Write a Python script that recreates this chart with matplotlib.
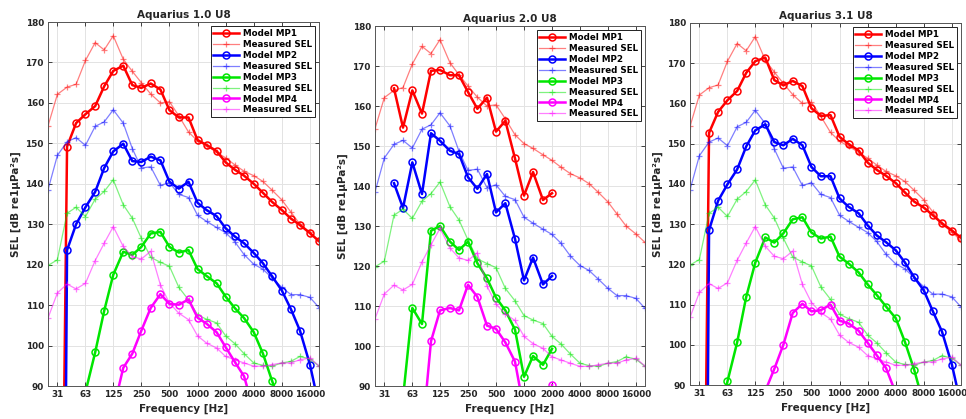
import numpy as np
import matplotlib
matplotlib.use("Agg")
import matplotlib.pyplot as plt

nan = np.nan

# third-octave band centre frequencies [Hz]
freqs = [25, 31.5, 40, 50, 63, 80, 100, 125, 160, 200, 250, 315, 400, 500, 630,
         800, 1000, 1250, 1600, 2000, 2500, 3150, 4000, 5000, 6300, 8000, 10000,
         12500, 16000, 20000]
tick_freqs = [31.5, 63, 125, 250, 500, 1000, 2000, 4000, 8000, 16000]
tick_labels = ["31", "63", "125", "250", "500", "1000", "2000", "4000", "8000", "16000"]

# measured SEL per measurement point (same in every panel)
meas_mp1 = [154.3, 162.1, 163.9, 164.6, 170.5, 174.9, 173.1, 176.6, 170.8, 167.8,
            165.0, 162.2, 160.0, 160.3, 156.8, 152.8, 150.6, 149.4, 147.8, 146.4,
            144.7, 143.1, 142.0, 140.6, 138.4, 136.0, 133.0, 130.0, 128.0, 125.9]
meas_mp2 = [138.5, 147.0, 150.4, 151.4, 149.5, 154.2, 155.3, 158.3, 155.0, 148.7,
            143.9, 144.2, 139.6, 140.3, 137.4, 136.6, 132.2, 130.7, 129.2, 127.9,
            125.7, 122.5, 120.1, 118.9, 116.7, 114.4, 112.6, 112.6, 111.9, 109.4]
meas_mp3 = [119.8, 121.2, 132.7, 134.2, 131.9, 136.2, 138.1, 141.0, 134.8, 131.5,
            126.5, 121.8, 120.6, 119.6, 114.4, 111.3, 107.6, 106.5, 105.6, 102.4,
            100.5, 98.0, 95.7, 95.1, 94.9, 95.7, 96.1, 97.3, 96.7, 94.9]
meas_mp4 = [106.8, 113.0, 115.2, 114.0, 115.4, 121.0, 125.3, 129.4, 124.5, 122.0,
            121.4, 123.3, 115.0, 110.5, 108.0, 106.4, 102.4, 100.6, 99.4, 97.3,
            96.5, 95.7, 94.9, 94.9, 95.3, 95.7, 95.7, 96.5, 96.9, 95.0]

# Aquarius 1.0 model
a10_mp1 = [nan, -60, 149.2, 155.0, 157.2, 159.2, 164.1, 167.9, 169.2, 164.4, 163.7,
           164.8, 163.3, 158.2, 156.4, 156.4, 150.8, 149.6, 148.1, 145.3, 143.5,
           142.0, 140.0, 137.8, 135.5, 133.5, 131.4, 129.8, 127.8, 125.8]
a10_mp2 = [nan, -200, 123.6, 130.0, 134.2, 138.0, 143.9, 148.0, 149.9, 145.6, 145.4,
           146.7, 145.8, 140.5, 138.8, 140.5, 135.3, 133.5, 132.0, 129.0, 127.0,
           125.3, 122.9, 120.4, 117.1, 113.6, 109.0, 103.7, 95.3, 85.0]
a10_mp3 = [nan, nan, nan, nan, 88.5, 98.3, 108.6, 117.5, 123.2, 122.4, 124.4, 127.7,
           128.1, 124.4, 123.0, 123.6, 118.9, 117.2, 115.4, 112.1, 109.3, 106.8,
           103.3, 98.1, 91.2, 84.5, nan, nan, nan, nan]
a10_mp4 = [nan, nan, nan, nan, nan, nan, nan, 84.0, 94.5, 98.0, 103.7, 109.3, 112.7,
           110.3, 110.1, 111.4, 106.9, 105.4, 103.3, 99.6, 96.0, 92.4, 84.0,
           nan, nan, nan, nan, nan, nan, nan]

# Aquarius 2.0 model (up to 2 kHz)
a20_mp1 = [nan, nan, 164.4, 154.6, 163.9, 158.1, 168.8, 169.0, 167.7, 167.7, 163.5,
           159.3, 162.1, 153.6, 156.3, 146.9, 137.6, 143.5, 136.5, 138.2] + [nan] * 10
a20_mp2 = [nan, nan, 140.7, 134.5, 145.9, 138.0, 153.2, 151.3, 148.8, 148.0, 142.2,
           139.3, 143.0, 133.4, 135.7, 126.8, 116.4, 122.1, 115.4, 117.5] + [nan] * 10
a20_mp3 = [nan, nan, nan, 87.0, 109.5, 105.5, 128.8, 130.0, 126.1, 124.0, 126.1,
           120.7, 116.9, 112.1, 108.9, 104.1, 92.3, 97.5, 95.3, 99.3] + [nan] * 10
a20_mp4 = [nan, nan, nan, nan, nan, 77.0, 101.2, 108.9, 109.5, 108.9, 115.3, 112.3,
           105.1, 104.3, 100.9, 96.1, 84.0, 80.0, 78.0, 90.2] + [nan] * 10

# Aquarius 3.1 model
a31_mp1 = [nan, -60, 152.7, 157.9, 160.8, 163.1, 167.6, 170.5, 171.4, 165.8, 164.5,
           165.6, 164.3, 158.8, 156.9, 157.1, 151.7, 149.9, 148.3, 145.3, 143.5,
           142.0, 140.2, 137.9, 135.6, 134.1, 132.2, 130.2, 128.4, 126.6]
a31_mp2 = [nan, -200, 128.5, 135.8, 139.9, 143.6, 149.3, 153.3, 154.8, 150.4, 149.6,
           151.2, 149.6, 144.2, 141.9, 141.9, 136.4, 134.3, 132.7, 129.7, 127.2,
           125.5, 123.5, 120.5, 116.8, 113.5, 108.3, 103.3, 95.0, 85.0]
a31_mp3 = [nan, nan, nan, 80.0, 90.9, 100.6, 111.9, 120.4, 126.7, 125.4, 127.7, 131.2,
           131.7, 127.9, 126.4, 126.9, 121.9, 120.2, 118.0, 115.0, 112.4, 109.5,
           106.6, 100.8, 93.8, 85.0, nan, nan, nan, nan]
a31_mp4 = [nan, nan, nan, nan, nan, nan, nan, nan, 88.5, 94.0, 100.0, 107.9, 110.2,
           108.3, 108.6, 110.0, 106.0, 105.3, 103.5, 100.5, 97.4, 94.2, 88.0,
           nan, nan, nan, nan, nan, nan, nan]

titles = ["Aquarius 1.0 U8", "Aquarius 2.0 U8", "Aquarius 3.1 U8"]
models = [[a10_mp1, a10_mp2, a10_mp3, a10_mp4],
          [a20_mp1, a20_mp2, a20_mp3, a20_mp4],
          [a31_mp1, a31_mp2, a31_mp3, a31_mp4]]
measured = [meas_mp1, meas_mp2, meas_mp3, meas_mp4]
colors = ["#ff0000", "#0000ff", "#00e600", "#ff00ff"]

# axes boxes in pixels: left, right, top, bottom
W, H = 966, 419
boxes = [(48, 319, 22, 386), (375, 645, 26, 386), (690, 961, 23, 385)]

fig = plt.figure(figsize=(W / 100, H / 100), dpi=100)
txt = "#262626"

for k in range(3):
    l, r, t, b = boxes[k]
    ax = fig.add_axes([l / W, 1 - b / H, (r - l) / W, (b - t) / H])
    for j in range(4):
        ax.plot(freqs, models[k][j], color=colors[j], lw=1.8, marker="o", ms=5,
                mfc="none", mew=1.1, label=f"Model MP{j + 1}")
        ax.plot(freqs, measured[j], color=colors[j], lw=0.9, alpha=0.5,
                marker="+", ms=4.5, mew=0.9, label="Measured SEL")
    ax.set_xscale("log")
    ax.set_xlim(25, 20000)
    ax.set_ylim(90, 180)
    ax.set_xticks(tick_freqs)
    ax.set_xticklabels(tick_labels)
    ax.xaxis.set_minor_locator(matplotlib.ticker.NullLocator())
    ax.set_yticks(np.arange(90, 181, 10))
    ax.grid(True, color="#e3e3e3", lw=0.7)
    ax.set_axisbelow(True)
    ax.tick_params(direction="in", top=True, right=True, length=3, width=0.6,
                   labelsize=6.4, colors=txt, pad=3)
    for lab in ax.get_xticklabels() + ax.get_yticklabels():
        lab.set_fontweight("bold")
    for s in ax.spines.values():
        s.set_color("#555555")
        s.set_linewidth(0.7)
    ax.set_title(titles[k], fontsize=7.5, fontweight="bold", color=txt, pad=3)
    ax.set_xlabel("Frequency [Hz]", fontsize=7.5, fontweight="bold", color=txt,
                  labelpad=3)
    ax.set_ylabel("SEL [dB re1μPa²s]", fontsize=7.5, fontweight="bold", color=txt,
                  labelpad=3)
    leg = ax.legend(loc="upper right", prop={"weight": "bold", "size": 6.3},
                    frameon=True, fancybox=False, edgecolor="#222222",
                    framealpha=1, borderaxespad=0.5, borderpad=0.3,
                    labelspacing=0.22, handlelength=3.0, handletextpad=0.4)
    leg.get_frame().set_linewidth(0.7)

fig.savefig("out.png", dpi=100)
